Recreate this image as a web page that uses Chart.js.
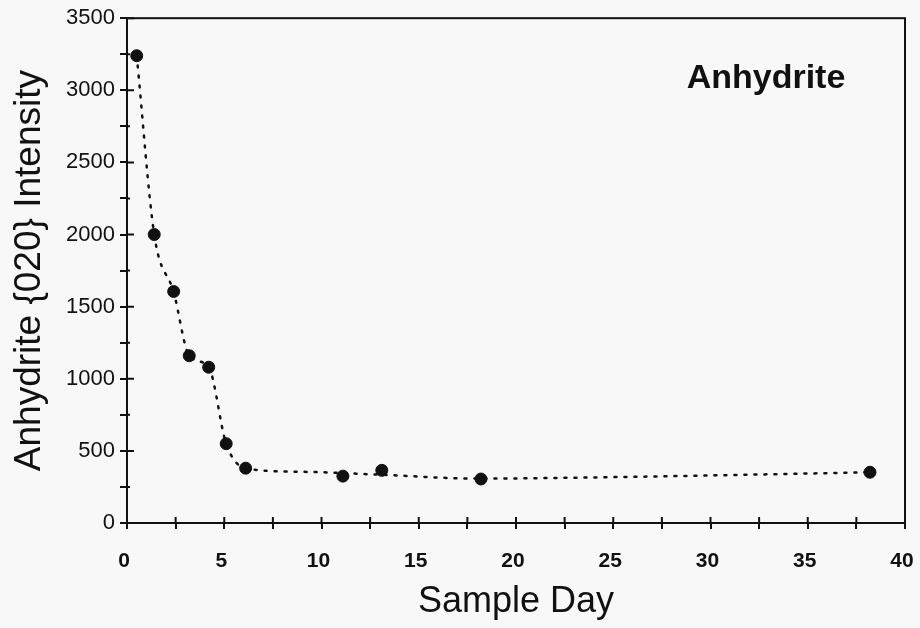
<!DOCTYPE html>
<html>
<head>
<meta charset="utf-8">
<script src="https://cdn.jsdelivr.net/npm/chart.js@4"></script>
<style>
  html, body { margin: 0; padding: 0; background: #f8f8f8; }
  #wrap { width: 920px; height: 628px; }
</style>
</head>
<body>
<div id="wrap"><canvas id="chart"></canvas></div>
<script>
// measured points
const sampleDays = [0.5, 1.4, 2.4, 3.2, 4.2, 5.1, 6.1, 11.1, 13.1, 18.2, 38.2];
const intensity = [3240, 2000, 1605, 1160, 1080, 550, 380, 325, 365, 305, 352];

// dotted trend curve
const curveDays = [0.5, 1.4, 2.4, 3.2, 4.2, 5.1, 6.1, 9, 13, 18, 25, 32, 38.2];
const curveValues = [3240, 2000, 1600, 1160, 1080, 550, 380, 355, 335, 308, 318, 335, 352];

const xTicks = [0, 5, 10, 15, 20, 25, 30, 35, 40];
const yTicks = [0, 500, 1000, 1500, 2000, 2500, 3000, 3500];

const plotTitle = 'Anhydrite';
const fontFamily = '"Liberation Sans", Arial, sans-serif';

function toPoints(xs, ys) {
    return xs.map((x, i) => ({ x: x, y: ys[i] }));
}

// frame, inner tick marks and the label inside the plot
const framePlugin = {
    id: 'frame',
    afterDatasetsDraw(chart) {
        const ctx = chart.ctx;
        const a = chart.chartArea;
        const xs = chart.scales.x;
        const ys = chart.scales.y;
        ctx.save();
        ctx.strokeStyle = '#111';
        ctx.lineWidth = 2;
        ctx.strokeRect(a.left, a.top, a.right - a.left, a.bottom - a.top);

        ctx.beginPath();
        xs.ticks.forEach(t => {
            const px = xs.getPixelForValue(t.value);
            ctx.moveTo(px, a.bottom);
            ctx.lineTo(px, a.bottom - 6);
        });
        ys.ticks.forEach(t => {
            const py = ys.getPixelForValue(t.value);
            const len = t.value % 500 === 0 ? 7 : 3;
            ctx.moveTo(a.left, py);
            ctx.lineTo(a.left + len, py);
        });
        ctx.stroke();

        ctx.fillStyle = '#111';
        ctx.font = 'bold 34px ' + fontFamily;
        ctx.textAlign = 'center';
        ctx.textBaseline = 'middle';
        ctx.fillText(plotTitle, a.right - 139, a.top + 60);
        ctx.restore();
    }
};

const config = {
    type: 'scatter',
    data: {
        datasets: [{
            label: 'trend',
            data: toPoints(curveDays, curveValues),
            showLine: true,
            borderColor: '#111',
            borderWidth: 2.5,
            borderDash: [2, 8],
            borderCapStyle: 'round',
            cubicInterpolationMode: 'monotone',
            pointRadius: 0,
            fill: false
        }, {
            label: 'Anhydrite',
            data: toPoints(sampleDays, intensity),
            backgroundColor: '#111',
            borderColor: '#111',
            pointRadius: 6,
            pointHoverRadius: 6
        }]
    },
    plugins: [framePlugin],
    options: {
        responsive: true,
        maintainAspectRatio: false,
        animation: false,
        layout: { padding: { top: 16, right: 15, left: 8, bottom: 4 } },
        plugins: {
            legend: { display: false },
            tooltip: { enabled: false }
        },
        scales: {
            x: {
                type: 'linear',
                min: 0,
                max: 40,
                border: { display: false },
                grid: { drawOnChartArea: false, tickLength: 6, color: '#111', lineWidth: 2 },
                afterBuildTicks: s => {
                    const t = [];
                    for (let v = 0; v <= 40; v += 2.5) t.push({ value: v });
                    s.ticks = t;
                },
                ticks: {
                    color: '#111',
                    font: { family: fontFamily, size: 21, weight: 'bold' },
                    padding: 20,
                    labelOffset: -3,
                    maxRotation: 0,
                    autoSkip: false,
                    callback: v => xTicks.includes(v) ? String(v) : ''
                },
                title: {
                    display: true,
                    text: 'Sample Day',
                    color: '#111',
                    font: { family: fontFamily, size: 36 },
                    padding: { top: 0, bottom: 0 }
                },
                afterFit: s => {
                    s.height = 101;
                    s.paddingLeft = 0;
                    s.paddingRight = 0;
                }
            },
            y: {
                min: 0,
                max: 3500,
                border: { display: false },
                grid: { drawOnChartArea: false, tickLength: 7, color: '#111', lineWidth: 2 },
                afterBuildTicks: s => {
                    const t = [];
                    for (let v = 0; v <= 3500; v += 250) t.push({ value: v });
                    s.ticks = t;
                },
                ticks: {
                    color: '#111',
                    font: { family: fontFamily, size: 22 },
                    padding: 5,
                    autoSkip: false,
                    callback: v => yTicks.includes(v) ? String(v) : ''
                },
                title: {
                    display: true,
                    text: 'Anhydrite {020} Intensity',
                    color: '#111',
                    font: { family: fontFamily, size: 37 },
                    padding: { top: 0, bottom: 0 }
                },
                afterFit: s => { s.width = 119; }
            }
        }
    }
};

new Chart(document.getElementById('chart').getContext('2d'), config);
</script>
</body>
</html>
